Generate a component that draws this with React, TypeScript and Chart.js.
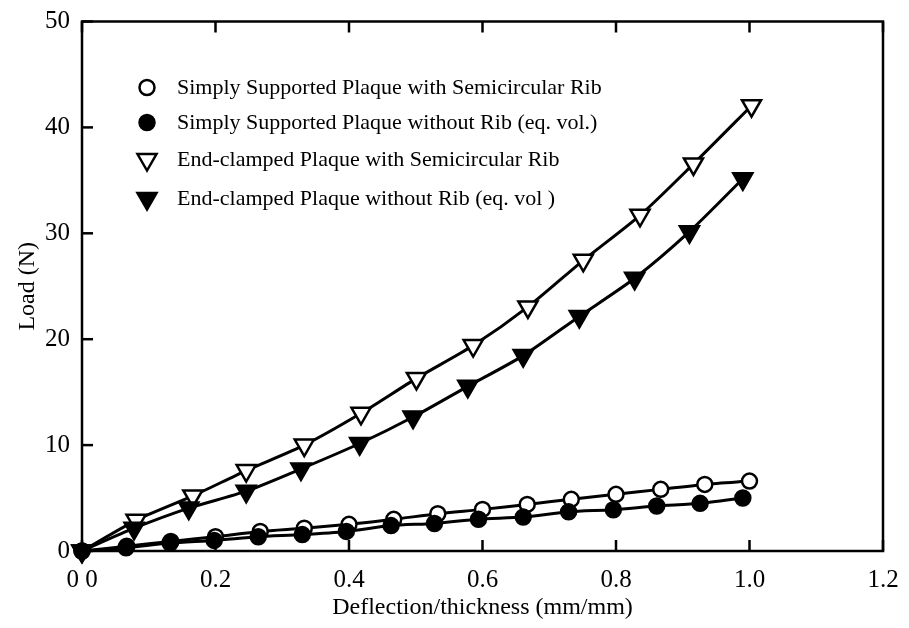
import React, { useEffect, useRef } from "react";
import { Chart, registerables } from "chart.js";

Chart.register(...registerables);

const FONT = "'Liberation Serif', 'Times New Roman', Times, serif";

const seriesLabels = [
  "Simply Supported Plaque with Semicircular Rib",
  "Simply Supported Plaque without Rib (eq. vol.)",
  "End-clamped Plaque with Semicircular Rib",
  "End-clamped Plaque without Rib (eq. vol )",
];

const xTickLabels = ["0 0", "0.2", "0.4", "0.6", "0.8", "1.0", "1.2"];
const yTickLabels = ["0", "10", "20", "30", "40", "50"];

const xTitle = "Deflection/thickness (mm/mm)";
const yTitle = "Load (N)";

// Simply supported, with semicircular rib (open circles)
const ssRibX = [0, 0.067, 0.133, 0.2, 0.267, 0.333, 0.4, 0.467, 0.533, 0.6, 0.667, 0.733, 0.8, 0.867, 0.933, 1.0];
const ssRibY = [0, 0.45, 0.9, 1.35, 1.85, 2.15, 2.52, 2.99, 3.52, 3.93, 4.4, 4.88, 5.35, 5.82, 6.29, 6.6];

// Simply supported, without rib (filled circles)
const ssNoRibX = [0, 0.066, 0.132, 0.198, 0.264, 0.33, 0.396, 0.463, 0.528, 0.594, 0.661, 0.729, 0.796, 0.861, 0.926, 0.99];
const ssNoRibY = [0, 0.3, 0.75, 1.0, 1.35, 1.55, 1.85, 2.4, 2.6, 3.0, 3.2, 3.7, 3.9, 4.25, 4.5, 5.0];

// End-clamped, with semicircular rib (open down triangles)
const ecRibX = [0, 0.081, 0.166, 0.246, 0.333, 0.418, 0.501, 0.586, 0.668, 0.751, 0.836, 0.916, 1.003];
const ecRibY = [0, 2.9, 5.2, 7.6, 10.0, 13.0, 16.3, 19.4, 23.05, 27.45, 31.7, 36.55, 42.05];

// End-clamped, without rib (filled down triangles)
const ecNoRibX = [0, 0.078, 0.16, 0.246, 0.328, 0.416, 0.496, 0.578, 0.661, 0.745, 0.828, 0.91, 0.99];
const ecNoRibY = [0, 2.15, 4.05, 5.65, 7.75, 10.15, 12.65, 15.55, 18.45, 22.15, 25.75, 30.15, 35.15];

const toPoints = (xs: number[], ys: number[]) => xs.map((x, i) => ({ x, y: ys[i] }));

type MarkerKind = "circle" | "triangle";

function drawMarker(ctx: CanvasRenderingContext2D, kind: MarkerKind, filled: boolean, x: number, y: number, r: number) {
  ctx.save();
  ctx.beginPath();
  if (kind === "circle") {
    ctx.arc(x, y, r, 0, Math.PI * 2);
  } else {
    ctx.moveTo(x, y + r);
    ctx.lineTo(x - r * 0.866, y - r / 2);
    ctx.lineTo(x + r * 0.866, y - r / 2);
    ctx.closePath();
  }
  ctx.fillStyle = filled ? "#000" : "#fff";
  ctx.fill();
  ctx.lineWidth = 2.5;
  ctx.strokeStyle = "#000";
  ctx.stroke();
  ctx.restore();
}

const legendMarkers: { kind: MarkerKind; filled: boolean; r: number }[] = [
  { kind: "circle", filled: false, r: 7.5 },
  { kind: "circle", filled: true, r: 7.5 },
  { kind: "triangle", filled: false, r: 11 },
  { kind: "triangle", filled: true, r: 11 },
];

const framePlugin = {
  id: "frameTicks",
  beforeDatasetsDraw(chart: any) {
    const { ctx, chartArea } = chart;
    const { left, right, top, bottom } = chartArea;
    ctx.save();
    ctx.strokeStyle = "#000";
    ctx.lineWidth = 2.5;
    ctx.strokeRect(left, top, right - left, bottom - top);
    const tl = 11;
    const xs = chart.scales.x;
    xs.ticks.forEach((t: any) => {
      const px = xs.getPixelForValue(t.value);
      ctx.beginPath();
      ctx.moveTo(px, bottom);
      ctx.lineTo(px, bottom - tl);
      ctx.moveTo(px, top);
      ctx.lineTo(px, top + tl);
      ctx.stroke();
    });
    const ys = chart.scales.y;
    ys.ticks.forEach((t: any) => {
      const py = ys.getPixelForValue(t.value);
      ctx.beginPath();
      ctx.moveTo(left, py);
      ctx.lineTo(left + tl, py);
      ctx.stroke();
    });
    ctx.restore();
  },
  afterDraw(chart: any) {
    const { ctx, chartArea } = chart;
    const mx = chartArea.left + 65;
    const tx = chartArea.left + 95;
    const rowY = [chartArea.top + 66, chartArea.top + 101, chartArea.top + 138, chartArea.top + 177];
    ctx.save();
    ctx.font = `22px ${FONT}`;
    ctx.fillStyle = "#000";
    ctx.textBaseline = "middle";
    ctx.textAlign = "left";
    seriesLabels.forEach((label, i) => {
      const m = legendMarkers[i];
      drawMarker(ctx, m.kind, m.filled, mx, rowY[i], m.r);
      ctx.fillStyle = "#000";
      ctx.fillText(label, tx, rowY[i] + 1);
    });
    ctx.restore();
  },
};

export default function App() {
  const canvasRef = useRef<HTMLCanvasElement | null>(null);

  useEffect(() => {
    const canvas = canvasRef.current;
    if (!canvas) return;

    const common = {
      showLine: true,
      borderColor: "#000",
      borderWidth: 3,
      pointBorderColor: "#000",
      pointBorderWidth: 2.5,
      tension: 0.25,
      clip: false as const,
    };

    const chart = new Chart(canvas, {
      type: "scatter",
      data: {
        datasets: [
          {
            ...common,
            label: seriesLabels[1],
            data: toPoints(ssNoRibX, ssNoRibY),
            pointStyle: "circle",
            pointRadius: 7.5,
            pointBackgroundColor: "#000",
          },
          {
            ...common,
            label: seriesLabels[0],
            data: toPoints(ssRibX, ssRibY),
            pointStyle: "circle",
            pointRadius: 7.5,
            pointBackgroundColor: "#fff",
          },
          {
            ...common,
            label: seriesLabels[3],
            data: toPoints(ecNoRibX, ecNoRibY),
            pointStyle: "triangle",
            rotation: 180,
            pointRadius: 11,
            pointBackgroundColor: "#000",
          },
          {
            ...common,
            label: seriesLabels[2],
            data: toPoints(ecRibX, ecRibY),
            pointStyle: "triangle",
            rotation: 180,
            pointRadius: 11,
            pointBackgroundColor: "#fff",
          },
        ] as any,
      },
      options: {
        animation: false,
        responsive: false,
        maintainAspectRatio: false,
        layout: { padding: { left: 0, right: 0, top: 0, bottom: 0 } },
        plugins: {
          legend: { display: false },
          tooltip: { enabled: false },
        },
        scales: {
          x: {
            type: "linear",
            min: 0,
            max: 1.2,
            grid: { display: false, drawTicks: false },
            border: { display: false },
            ticks: {
              stepSize: 0.2,
              color: "#000",
              padding: 17,
              maxRotation: 0,
              autoSkip: false,
              font: { family: FONT, size: 25, lineHeight: 1 },
              callback: (_v: any, i: number) => xTickLabels[i],
            },
            title: {
              display: true,
              text: xTitle,
              color: "#000",
              font: { family: FONT, size: 24, lineHeight: 1 },
              padding: { top: 0, bottom: 0 },
            },
            afterFit: (s: any) => {
              s.height = 69;
              s.paddingLeft = 0;
              s.paddingRight = 18;
            },
          },
          y: {
            type: "linear",
            min: 0,
            max: 50,
            grid: { display: false, drawTicks: false },
            border: { display: false },
            ticks: {
              stepSize: 10,
              color: "#000",
              padding: 12,
              autoSkip: false,
              font: { family: FONT, size: 25, lineHeight: 1 },
              callback: (_v: any, i: number) => yTickLabels[i],
            },
            title: {
              display: true,
              text: yTitle,
              color: "#000",
              font: { family: FONT, size: 24, lineHeight: 1 },
              padding: { top: 8, bottom: 0 },
            },
            afterFit: (s: any) => {
              s.width = 74;
              s.paddingTop = 12.5;
              s.paddingBottom = 0;
            },
          },
        },
      } as any,
      plugins: [framePlugin],
    });

    return () => chart.destroy();
  }, []);

  return (
    <div style={{ width: 893, height: 612 }}>
      <canvas ref={canvasRef} width={893} height={612} style={{ display: "block" }} />
    </div>
  );
}
